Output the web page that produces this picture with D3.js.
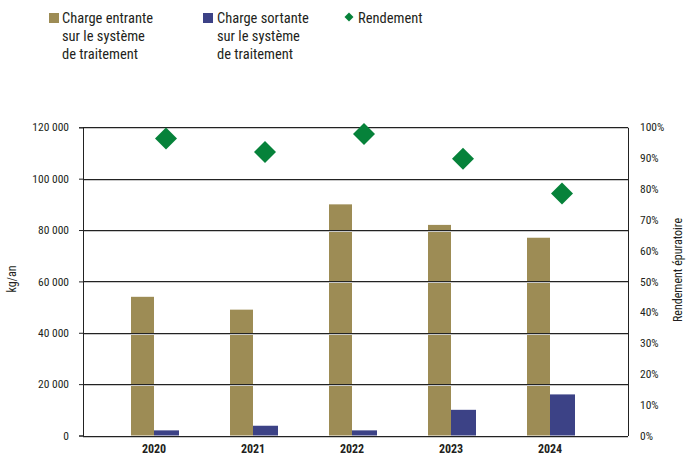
<!DOCTYPE html>
<html><head><meta charset="utf-8">
<script src="https://cdn.jsdelivr.net/npm/d3@7"></script>
<style>
body{margin:0;background:#fff}
svg text{font-family:"Liberation Sans Narrow","Arial Narrow","Roboto Condensed","Liberation Sans",sans-serif;fill:#231f20}
</style></head>
<body><svg id="c" width="687" height="457"></svg>
<script>
const years = ["2020","2021","2022","2023","2024"];
const chargeEntrante = [54000, 49000, 90000, 82000, 77000];
const chargeSortante = [2000, 3800, 2000, 10000, 16000];
const rendement = [96.4, 92.0, 97.8, 89.8, 78.5];
const leftTicks = [0, 20000, 40000, 60000, 80000, 100000, 120000];
const rightTicks = [0,10,20,30,40,50,60,70,80,90,100];
const legendLabels = [["Charge entrante","sur le système","de traitement"],["Charge sortante","sur le système","de traitement"],["Rendement"]];

const colIn = "#9d8c55", colOut = "#3c4286", colRend = "#06823a";
const svg = d3.select("#c");
const L = 83, R = 628, T = 127.3, B = 435.5;
const fmt = v => d3.format(",")(v).replace(/,/g, " ");

const x = d3.scaleBand().domain(years).range([104.5, 599.5]);
const y = d3.scaleLinear().domain([0,120000]).range([B,T]);
const y2 = d3.scaleLinear().domain([0,100]).range([B,T]);

// bars
const cx = d => x(d) + x.bandwidth()/2;
svg.append("g").selectAll("rect").data(years).join("rect")
  .attr("x", d => cx(d) - 23).attr("width", 23)
  .attr("y", (d,i) => y(chargeEntrante[i])).attr("height", (d,i) => B - y(chargeEntrante[i]))
  .attr("fill", colIn);
svg.append("g").selectAll("rect").data(years).join("rect")
  .attr("x", d => cx(d)).attr("width", 25)
  .attr("y", (d,i) => y(chargeSortante[i])).attr("height", (d,i) => B - y(chargeSortante[i]))
  .attr("fill", colOut);

// gridlines over bars
const g = svg.append("g");
leftTicks.forEach(t => {
  const yy = Math.round(y(t));
  g.append("line").attr("x1", L).attr("x2", R).attr("y1", yy+1.5).attr("y2", yy+1.5).attr("stroke", "#c8c8c8").attr("stroke-width", 1);
  g.append("line").attr("x1", L).attr("x2", R).attr("y1", yy+0.5).attr("y2", yy+0.5).attr("stroke", "#222").attr("stroke-width", 1);
});

// left axis
const ax = d3.axisLeft(y).tickValues(leftTicks).tickSize(4).tickPadding(10).tickFormat(fmt);
const ga = svg.append("g").attr("transform", `translate(${L},0)`).call(ax);
ga.select(".domain").attr("stroke", "#222");
ga.selectAll(".tick line").attr("stroke", "#222");
ga.selectAll("text").style("font-size", "11.5px").attr("fill", "#231f20");

// right axis
const ar = d3.axisRight(y2).tickValues(rightTicks).tickSize(0).tickPadding(12).tickFormat(d => d + "%");
const gr = svg.append("g").attr("transform", `translate(${R},0)`).call(ar);
gr.select(".domain").attr("stroke", "#222");
gr.selectAll("text").style("font-size", "11.5px").attr("fill", "#231f20");

// x axis labels
const axb = d3.axisBottom(x).tickSize(0).tickPadding(9);
const gb = svg.append("g").attr("transform", `translate(0,${B})`).call(axb);
gb.select(".domain").remove();
gb.selectAll("text").style("font-size", "12px").style("font-weight", "bold").attr("fill", "#231f20");

// diamonds
const sym = d3.symbol().type(d3.symbolSquare).size(242);
svg.append("g").selectAll("path").data(years).join("path")
  .attr("d", sym)
  .attr("transform", (d,i) => `translate(${cx(d)+12},${y2(rendement[i])}) rotate(45)`)
  .attr("fill", colRend);

// axis titles
svg.append("text").attr("transform", "translate(16,279) rotate(-90)").attr("text-anchor","middle")
  .style("font-size","12px").text("kg/an");
svg.append("text").attr("transform", "translate(682,270) rotate(-90)").attr("text-anchor","middle")
  .style("font-size","12px").text("Rendement épuratoire");

// legend
const lg = svg.append("g");
const lx = [49, 203, 345];
[colIn, colOut].forEach((c,i) => {
  lg.append("rect").attr("x", lx[i]).attr("y", 13).attr("width", 10).attr("height", 10).attr("fill", c);
});
lg.append("path").attr("d", d3.symbol().type(d3.symbolSquare).size(40))
  .attr("transform", "translate(349,17) rotate(45)").attr("fill", colRend);
const tx = [62, 217, 358];
legendLabels.forEach((lines,i) => {
  lines.forEach((t,j) => {
    lg.append("text").attr("x", tx[i]).attr("y", 23 + j*18).style("font-size","14.5px").text(t);
  });
});
</script></body></html>
